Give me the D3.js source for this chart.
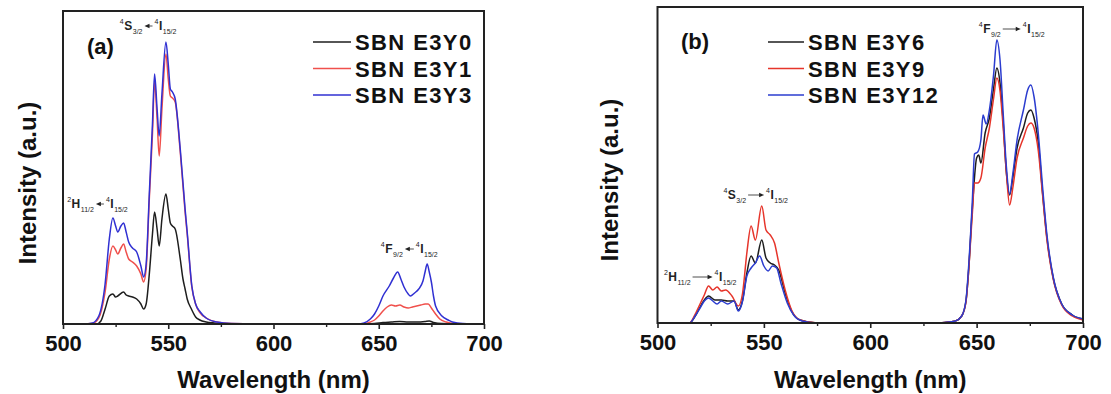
<!DOCTYPE html>
<html>
<head>
<meta charset="utf-8">
<title>SBN emission spectra</title>
<style>
  body { margin: 0; background: #fff; }
  svg { font-family: "Liberation Sans", Arial, sans-serif; }
</style>
</head>
<body>
<svg id="chart" width="1111" height="394"></svg>
<script src="https://cdn.jsdelivr.net/npm/d3@7"></script>
<script>
// ---- data (intensity in arbitrary units) ----
const ticksX = [500, 550, 600, 650, 700];
const minorX = [525, 575, 625, 675];

// panel (a)
const namesA = ["SBN E3Y0", "SBN E3Y1", "SBN E3Y3"];
const e3y0 = [[500,0],[516,0],[518,3],[520,15],[522,28],[523.7,30],[525,27],[526,28],[528.8,32],[530,29],[531.2,28],[533,27],[535,25],[537,20],[538.3,15],[539.5,20],[541,50],[542.5,90],[543.5,112],[544.7,95],[545.7,78],[547,105],[548.9,130],[550,115],[551,101],[552,98],[553.3,95],[555.7,65],[557,45],[558,35],[559,25],[561,15],[563,7],[565,4],[568,2],[572,1],[580,0],[640,0],[648,0.5],[652,1.5],[656,2],[660,2.5],[664,2],[668,2],[672,2.5],[674,3],[676,1.5],[680,0.5],[700,0]];
const e3y1 = [[500,0],[514,0.5],[517,6],[520,32],[522,65],[523.7,78],[525,74],[526,70],[527.5,76],[528.8,80],[530,72],[531.2,65],[533,62],[535,58],[537,50],[538.3,42],[539.5,55],[541,125],[542.5,190],[543.5,242],[544.7,205],[545.7,168],[547,215],[548.9,270],[550,245],[551,228],[552,226],[553.3,222],[555.7,172],[558,112],[559,90],[561.2,37],[563,20],[565.2,11],[568,6],[573,2],[580,0.5],[600,0],[643,0],[646,2],[648,4],[650,8],[652,13],[654,17],[656,19],[658,18],[660,19],[662,17],[664,16],[666,17],[668,18],[670,19],[672,20],[673.5,20],[675,16],[677,10],[679,5],[682,2],[686,0.5],[700,0]];
const e3y3 = [[500,0],[510,0],[514,1],[517,8],[520,40],[522,85],[523.7,106],[525,98],[526,92],[527.5,98],[528.8,101],[530,92],[531.2,82],[533,76],[535,72],[537,58],[538.3,47],[539.5,60],[541,130],[542.5,200],[543.5,250],[544.7,215],[545.7,188],[547,230],[548.9,282],[550,260],[551,235],[552,232],[553.3,225],[555.7,175],[558,115],[559,92],[561.2,38],[563,20],[565.2,12],[568,6],[573,2],[580,0.5],[600,0],[640,0],[643,1],[646,5],[648,10],[650,18],[652,28],[655,38],[657,46],[659,52],[660.5,45],[662,37],[664,30],[665,28],[667,31],[669,35],[671,43],[672,52],[673,60],[674,52],[675,42],[676,28],[677,18],[680,8],[683,4],[685,2],[690,0.5],[700,0]];

// panel (b)
const namesB = ["SBN E3Y6", "SBN E3Y9", "SBN E3Y12"];
const e3y6 = [[500,0],[515,0],[518,8],[520,16],[522,23],[524,27],[527,23],[530,23],[533,22],[536,22],[538,13],[540,23],[542,50],[544,67],[546,60],[549,83],[551,65],[553,60],[555,58],[557,53],[560,30],[563,12],[567,3],[575,0],[630,0],[635,0.5],[640,2],[643,7],[645,22],[646,45],[648,115],[650,165],[651,168],[652,160],[654,190],[656,205],[658,235],[659.5,255],[661,240],[662.5,200],[664,150],[665.5,128],[667,145],[669,175],[672,195],[674,210],[675.5,213],[677,205],[679,180],[681,130],[683,86],[686,45],[690,19],[695,8],[700,4]];
const e3y9 = [[500,0],[515,0],[518,10],[520,19],[522,28],[524,37],[526,33],[528,36],[530,32],[532,33],[535,27],[538,17],[540,30],[542,70],[544,97],[546,83],[549,117],[551,93],[553,88],[555,80],[557,60],[560,33],[563,13],[567,3],[575,0],[630,0],[635,0.5],[640,2],[643,7],[645,21],[646,45],[648,110],[649,140],[650.5,140],[652,145],[654,175],[656,195],[658,225],[659.5,245],[661,232],[662.5,195],[664,150],[665.5,118],[667,135],[669,165],[672,185],[674,197],[675.5,200],[677,195],[679,172],[681,128],[683,84],[686,44],[690,18],[695,7],[700,3]];
const e3y12 = [[500,0],[515,0],[518,8],[520,15],[522,22],[524,25],[526,22],[528,19],[530,22],[533,19],[536,22],[538,12],[540,22],[542,47],[544,55],[546,60],[548,67],[550,57],[552,52],[554,57],[556,55],[558,40],[561,20],[564,8],[568,2],[575,0],[630,0],[635,0.5],[640,2],[643,7],[645,23],[646,49],[648,123],[649,169],[650.5,171],[652,183],[653,208],[654.5,199],[656,213],[658,249],[659.5,283],[661,263],[662.5,209],[664,156],[665.5,129],[667,149],[669,183],[672,213],[674,233],[675.5,238],[677,226],[679,189],[681,136],[683,89],[686,46],[690,19],[695,8],[700,4]];

const colA = ["#1e1e1e", "#f0504c", "#3030d2"];
const colB = ["#1e1e1e", "#e6352b", "#2b3ccf"];

const svg = d3.select("#chart");

function panel(o) {
  const g = svg.append("g");
  const x = d3.scaleLinear().domain([500, 700]).range([o.left, o.right]);
  const y = d3.scaleLinear().domain([0, o.ymax]).range([o.bottom, o.top]);

  // x axis with outward ticks
  const ax = g.append("g").attr("transform", `translate(0,${o.bottom})`)
    .call(d3.axisBottom(x).tickValues(ticksX).tickSize(5).tickSizeOuter(0).tickPadding(6).tickFormat(d3.format("d")));
  ax.select(".domain").remove();
  ax.selectAll(".tick line").attr("stroke", "#222").attr("stroke-width", 1.6);
  ax.selectAll(".tick text").attr("font-size", 22).attr("font-weight", "bold")
    .attr("fill", "#111").attr("font-family", "Liberation Sans, Arial, sans-serif");
  g.append("g").attr("transform", `translate(0,${o.bottom})`)
    .call(d3.axisBottom(x).tickValues(minorX).tickSize(3).tickFormat(""))
    .call(s => s.select(".domain").remove())
    .selectAll(".tick line").attr("stroke", "#222").attr("stroke-width", 1.4);

  const line = d3.line().x(d => x(d[0])).y(d => y(d[1])).curve(d3.curveMonotoneX);
  o.series.forEach((s, i) => {
    g.append("path").datum(s).attr("fill", "none")
      .attr("stroke", o.colors[i]).attr("stroke-width", 1.5)
      .attr("stroke-linejoin", "round").attr("d", line);
  });

  // frame
  g.append("rect").attr("x", o.left).attr("y", o.top)
    .attr("width", o.right - o.left).attr("height", o.bottom - o.top)
    .attr("fill", "none").attr("stroke", "#222").attr("stroke-width", 2);

  // axis titles
  g.append("text").attr("x", (o.left + o.right) / 2).attr("y", 388)
    .attr("text-anchor", "middle").attr("font-size", 24).attr("font-weight", "bold")
    .attr("fill", "#111").text("Wavelength (nm)");
  g.append("text").attr("transform", `translate(${o.ytx},${o.yty}) rotate(-90)`)
    .attr("text-anchor", "middle").attr("dominant-baseline", "central")
    .attr("font-size", 24).attr("font-weight", "bold").attr("fill", "#111")
    .text("Intensity (a.u.)");

  // panel letter
  g.append("text").attr("x", o.tagX).attr("y", o.tagY).attr("font-size", 22)
    .attr("font-weight", "bold").attr("fill", "#111").text(o.tag);

  // legend
  o.names.forEach((n, i) => {
    const yy = o.legY + i * 26.5;
    g.append("line").attr("x1", o.legX).attr("x2", o.legX + o.legLen)
      .attr("y1", yy - 8).attr("y2", yy - 8)
      .attr("stroke", o.colors[i]).attr("stroke-width", 1.5);
    g.append("text").attr("x", o.legX + o.legLen + 4).attr("y", yy)
      .attr("font-size", 22).attr("font-weight", "bold").attr("letter-spacing", 1.4)
      .attr("fill", "#111").text(n);
  });

  // transition labels
  o.notes.forEach(nt => annot(g, x(nt.at), nt.y, nt.parts, nt.arrowW));
  return g;
}

// level labels: sup / main / sub / arrow pieces
function annot(g, x0, y0, parts, arrowW) {
  let cx = x0;
  parts.forEach(([t, k]) => {
    if (k === "arr") {
      const w = arrowW;
      const yy = y0 - 4;
      const dir = t === "<" ? -1 : 1;
      const xs = dir > 0 ? cx : cx + w, xe = dir > 0 ? cx + w : cx;
      g.append("line").attr("x1", xs).attr("x2", xe - dir * 3).attr("y1", yy).attr("y2", yy)
        .attr("stroke", "#222").attr("stroke-width", 0.8);
      g.append("path").attr("d", `M${xe},${yy} l${-dir * 5},-2.2 l0,4.4 z`).attr("fill", "#222");
      cx += w + 2;
      return;
    }
    const size = k === "main" ? 12 : 7;
    const dy = k === "sup" ? -6 : (k === "sub" ? 4 : 0);
    const tx = g.append("text").attr("x", cx).attr("y", y0 + dy)
      .attr("font-size", size).attr("font-weight", k === "main" ? "bold" : "normal")
      .attr("fill", "#222").text(t);
    cx += tx.node().getComputedTextLength() + (k === "sub" ? 2 : 0.5);
  });
}

panel({
  left: 63, right: 484, top: 11, bottom: 324, ymax: 313,
  series: [e3y0, e3y1, e3y3], colors: colA, names: namesA,
  ytx: 27, yty: 183, tag: "(a)", tagX: 87, tagY: 54,
  legX: 313, legLen: 38, legY: 50,
  notes: [
    { at: 527, y: 30, arrowW: 8, parts: [["4","sup"],["S","main"],["3/2","sub"],["<","arr"],["4","sup"],["I","main"],["15/2","sub"]] },
    { at: 502, y: 208, arrowW: 8, parts: [["2","sup"],["H","main"],["11/2","sub"],["<","arr"],["4","sup"],["I","main"],["15/2","sub"]] },
    { at: 651, y: 253, arrowW: 9, parts: [["4","sup"],["F","main"],["9/2","sub"],["<","arr"],["4","sup"],["I","main"],["15/2","sub"]] }
  ]
});

panel({
  left: 657.5, right: 1083, top: 7, bottom: 323, ymax: 316,
  series: [e3y6, e3y9, e3y12], colors: colB, names: namesB,
  ytx: 609, yty: 180, tag: "(b)", tagX: 681, tagY: 49,
  legX: 768, legLen: 36, legY: 50,
  notes: [
    { at: 651, y: 33, arrowW: 18, parts: [["4","sup"],["F","main"],["9/2","sub"],[">","arr"],["4","sup"],["I","main"],["15/2","sub"]] },
    { at: 531, y: 199, arrowW: 16, parts: [["4","sup"],["S","main"],["3/2","sub"],[">","arr"],["4","sup"],["I","main"],["15/2","sub"]] },
    { at: 503, y: 281, arrowW: 20, parts: [["2","sup"],["H","main"],["11/2","sub"],[">","arr"],["4","sup"],["I","main"],["15/2","sub"]] }
  ]
});
</script>
</body>
</html>
